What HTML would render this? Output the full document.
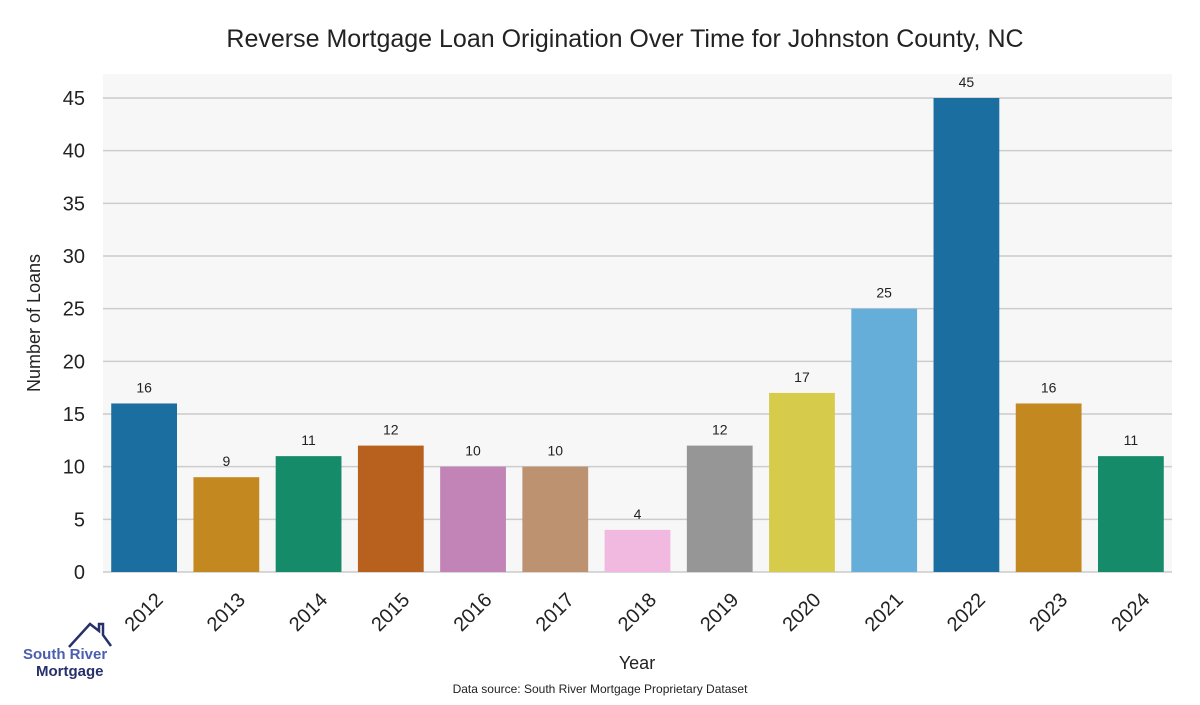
<!DOCTYPE html>
<html><head><meta charset="utf-8"><style>
body{margin:0;background:#fff;width:1200px;height:700px;overflow:hidden}
svg text{font-family:"Liberation Sans",sans-serif}
</style></head><body>
<svg id="chart" width="1200" height="700">
<text x="625" y="47" text-anchor="middle" font-size="25" fill="#222">Reverse Mortgage Loan Origination Over Time for Johnston County, NC</text>
<rect x="103" y="74" width="1069" height="498" fill="#f7f7f7"/>
<g id="grid"></g><g id="bars"></g><g id="xt"></g>
<text transform="translate(40,323) rotate(-90)" text-anchor="middle" font-size="18" fill="#222">Number of Loans</text>
<text x="637" y="669" text-anchor="middle" font-size="18" fill="#222">Year</text>
<text x="600" y="693" text-anchor="middle" font-size="12" fill="#222">Data source: South River Mortgage Proprietary Dataset</text>
<g>
<polyline points="69,647 90,624 99,631 99,624 103,624 103,635 111,646" fill="none" stroke="#26306a" stroke-width="2.5"/>
<text x="23" y="659" font-size="15" font-weight="bold" fill="#4a5fb0">South River</text>
<text x="36" y="676" font-size="15" font-weight="bold" fill="#26306a">Mortgage</text>
</g>
</svg>
<script>
const years=["2012","2013","2014","2015","2016","2017","2018","2019","2020","2021","2022","2023","2024"];
const loans=[16,9,11,12,10,10,4,12,17,25,45,16,11];
const yTicks=[0,5,10,15,20,25,30,35,40,45];
const colors=["#1a6fa0","#c38820","#168b6a","#b8601e","#c283b6","#bc9270","#f1b8e0","#969696","#d6cb4a","#65aed9"];
const NS="http://www.w3.org/2000/svg";
const x0=103,x1=1172,y0=572,yMax=45,yTop=98;
const y=v=>y0-(y0-yTop)*v/yMax;
const band=(x1-x0)/years.length;
function mk(t,a,p){const e=document.createElementNS(NS,t);for(const k in a)e.setAttribute(k,a[k]);p.appendChild(e);return e;}
const g=document.getElementById('grid');
yTicks.forEach(t=>{
 const l=mk('line',{x1:x0,x2:x1,y1:y(t),y2:y(t),stroke:'#cccccc','stroke-width':1.5},g);
 
 
 const tx=mk('text',{x:85,y:y(t)+7,'text-anchor':'end','font-size':20,fill:'#222'},g);
 tx.textContent=t;
 
 
});
const b=document.getElementById('bars'),xt=document.getElementById('xt');
years.forEach((yr,i)=>{
 const cx=x0+band*(i+0.5),w=band*0.8;
 const r=mk('rect',{x:cx-w/2,y:y(loans[i]),width:w,height:y0-y(loans[i]),fill:colors[i%colors.length]},b);
 
 
 const lb=mk('text',{x:cx,y:y(loans[i])-11,'text-anchor':'middle','font-size':14,fill:'#222'},b);
 lb.textContent=loans[i];
 
 
 const t=mk('text',{transform:`translate(${cx+20},${y0+29}) rotate(-45)`,'text-anchor':'end','font-size':20,fill:'#222'},xt);
 t.textContent=yr;
 
 
});
</script>
</body></html>
